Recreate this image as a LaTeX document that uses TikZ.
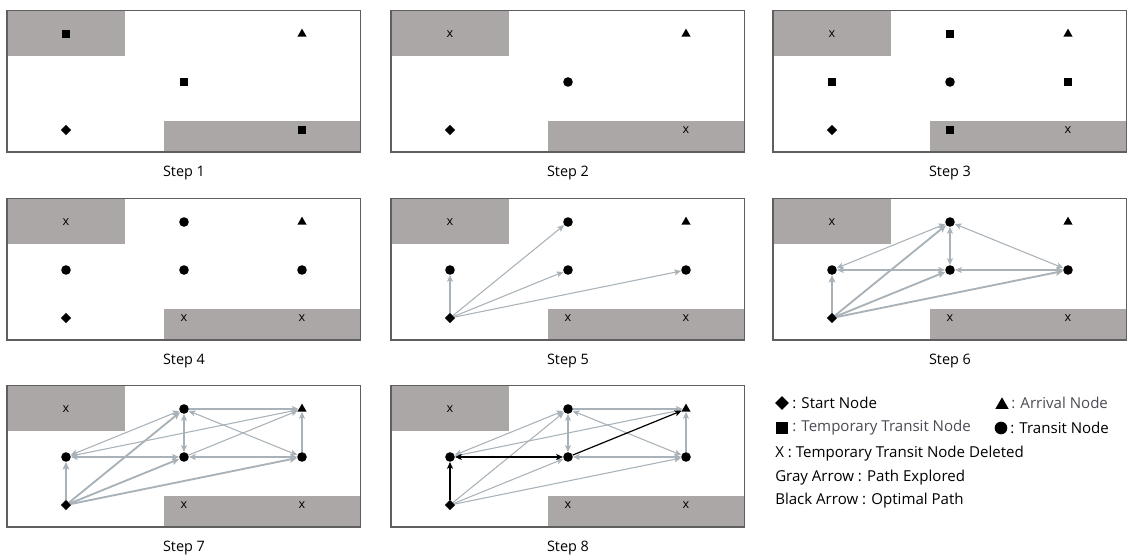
\documentclass[tikz,border=0pt]{standalone}
\usepackage{fontspec}
\setmainfont{Open Sans}
\usetikzlibrary{shapes.geometric,arrows.meta}
\definecolor{boxg}{RGB}{171,167,166}
\definecolor{arrg}{RGB}{169,178,184}
\definecolor{frameg}{RGB}{95,95,95}
\definecolor{legg}{RGB}{75,75,85}
\newcommand\panelbg[1]{%
  \fill[boxg] (0,0) rectangle (118,46);
  \fill[boxg] (157,111) rectangle (353,142);
  \draw[frameg, line width=0.6pt] (0,0) rectangle (353,142);
  \draw[frameg, line width=1.1pt] (0,0) -- (0,142) -- (353,142);
  \node[steplbl] (lbl#1) at (177,163) {Step #1};}
\newcommand\gridmarks[2]{\foreach \c/\r/\t in {#2}{%
  \edef\tmp{\noexpand\node[\t] (#1\c\r) at ({59+118*\c},{24+48*\r}) {};}\tmp}}
\begin{document}
\begin{tikzpicture}[x=0.75pt,y=-0.75pt,
  circ/.style={circle, fill=black, inner sep=0pt, minimum size=7.2pt},
  sq/.style={rectangle, fill=black, inner sep=0pt, minimum size=6.2pt},
  dia/.style={diamond, fill=black, inner sep=0pt, minimum size=7.8pt},
  tri/.style={regular polygon, regular polygon sides=3, fill=black, inner sep=0pt, minimum size=8pt},
  xn/.style={inner sep=0pt, minimum size=6pt, label={[font=\fontsize{9.5}{11}\selectfont, inner sep=0pt]center:x}},
  steplbl/.style={font=\fontsize{10.8}{13}\selectfont, inner sep=0pt},
  legt/.style={font=\fontsize{11.3}{13}\selectfont, inner sep=0pt, anchor=west},
  ga/.style={draw=arrg, line width=0.8pt, -{Stealth[length=5pt,width=4.5pt,inset=1pt]}},
  gab/.style={draw=arrg, line width=0.8pt, {Stealth[length=5pt,width=4.5pt,inset=1pt]}-{Stealth[length=5pt,width=4.5pt,inset=1pt]}},
  gat/.style={draw=arrg, line width=1.4pt, -{Stealth[length=5.5pt,width=5pt,inset=1pt]}},
  ba/.style={draw=black, line width=0.9pt, -{Stealth[length=5pt,width=4.5pt,inset=1pt]}},
  bab/.style={draw=black, line width=0.9pt, {Stealth[length=5pt,width=4.5pt,inset=1pt]}-{Stealth[length=5pt,width=4.5pt,inset=1pt]}}]
\useasboundingbox (0,0) rectangle (1129,560);

% Step 1
\begin{scope}[shift={(7,10)}]
\panelbg{1}
\gridmarks{a}{0/0/sq, 2/0/tri, 1/1/sq, 0/2/dia, 2/2/sq}
\end{scope}
% Step 2
\begin{scope}[shift={(391,10)}]
\panelbg{2}
\gridmarks{b}{0/0/xn, 2/0/tri, 1/1/circ, 0/2/dia, 2/2/xn}
\end{scope}
% Step 3
\begin{scope}[shift={(773,10)}]
\panelbg{3}
\gridmarks{c}{0/0/xn, 1/0/sq, 2/0/tri, 0/1/sq, 1/1/circ, 2/1/sq, 0/2/dia, 1/2/sq, 2/2/xn}
\end{scope}
% Step 4
\begin{scope}[shift={(7,198)}]
\panelbg{4}
\gridmarks{d}{0/0/xn, 1/0/circ, 2/0/tri, 0/1/circ, 1/1/circ, 2/1/circ, 0/2/dia, 1/2/xn, 2/2/xn}
\end{scope}
% Step 5
\begin{scope}[shift={(391,198)}]
\panelbg{5}
\gridmarks{e}{0/0/xn, 1/0/circ, 2/0/tri, 0/1/circ, 1/1/circ, 2/1/circ, 0/2/dia, 1/2/xn, 2/2/xn}
\draw[ga] (e02) -- (e01);
\draw[ga] (e02) -- (e10);
\draw[ga] (e02) -- (e11);
\draw[ga] (e02) -- (e21);
\end{scope}
% Step 6
\begin{scope}[shift={(773,198)}]
\panelbg{6}
\gridmarks{f}{0/0/xn, 1/0/circ, 2/0/tri, 0/1/circ, 1/1/circ, 2/1/circ, 0/2/dia, 1/2/xn, 2/2/xn}
\draw[gab] (f10) -- (f01);
\draw[gab] (f10) -- (f11);
\draw[gab] (f10) -- (f21);
\draw[gab] (f11) -- (f01);
\draw[gab] (f21) -- (f11);
\draw[gat] (f02) -- (f01);
\draw[gat] (f02) -- (f10);
\draw[gat] (f02) -- (f11);
\draw[gat] (f02) -- (f21);
\end{scope}
% Step 7
\begin{scope}[shift={(7,385)}]
\panelbg{7}
\gridmarks{g}{0/0/xn, 1/0/circ, 2/0/tri, 0/1/circ, 1/1/circ, 2/1/circ, 0/2/dia, 1/2/xn, 2/2/xn}
\draw[gab] (g10) -- (g01);
\draw[gab] (g10) -- (g11);
\draw[gab] (g10) -- (g21);
\draw[gab] (g11) -- (g01);
\draw[gab] (g21) -- (g11);
\draw[ga] (g10) -- (g20);
\draw[gab] (g01) -- (g20);
\draw[ga] (g11) -- (g20);
\draw[ga] (g21) -- (g20);
\draw[gat] (g02) -- (g01);
\draw[gat] (g02) -- (g10);
\draw[gat] (g02) -- (g11);
\draw[gat] (g02) -- (g21);
\end{scope}
% Step 8
\begin{scope}[shift={(391,385)}]
\panelbg{8}
\gridmarks{h}{0/0/xn, 1/0/circ, 2/0/tri, 0/1/circ, 1/1/circ, 2/1/circ, 0/2/dia, 1/2/xn, 2/2/xn}
\draw[gab] (h10) -- (h01);
\draw[gab] (h10) -- (h11);
\draw[gab] (h10) -- (h21);
\draw[gab] (h21) -- (h11);
\draw[ga] (h10) -- (h20);
\draw[gab] (h01) -- (h20);
\draw[ga] (h21) -- (h20);
\draw[ga] (h02) -- (h10);
\draw[ga] (h02) -- (h11);
\draw[ga] (h02) -- (h21);
\draw[ba] (h02) -- (h01);
\draw[bab] (h01) -- (h11);
\draw[ba] (h11) -- (h20);
\end{scope}

% Legend
\node[dia, minimum size=10.5pt] (lgs) at (782,403) {};
\node[legt] (lgst) at (792,403) {: Start Node};
\node[tri, minimum size=11.5pt] (lga) at (1002,405) {};
\node[legt, text=legg] (lgat) at (1011,403) {: Arrival Node};
\node[sq, minimum size=8.5pt] (lgq) at (782,428) {};
\node[legt, text=legg] (lgqt) at (792,428) {: Temporary Transit Node};
\node[circ, minimum size=9.5pt] (lgc) at (1001,428) {};
\node[legt] (lgct) at (1010,428) {: Transit Node};
\node[legt] (lgx) at (775,454) {X : Temporary Transit Node Deleted};
\node[legt] (lgg) at (775,478) {Gray Arrow : Path Explored};
\node[legt] (lgb) at (775,501) {Black Arrow : Optimal Path};
\end{tikzpicture}
\end{document}
